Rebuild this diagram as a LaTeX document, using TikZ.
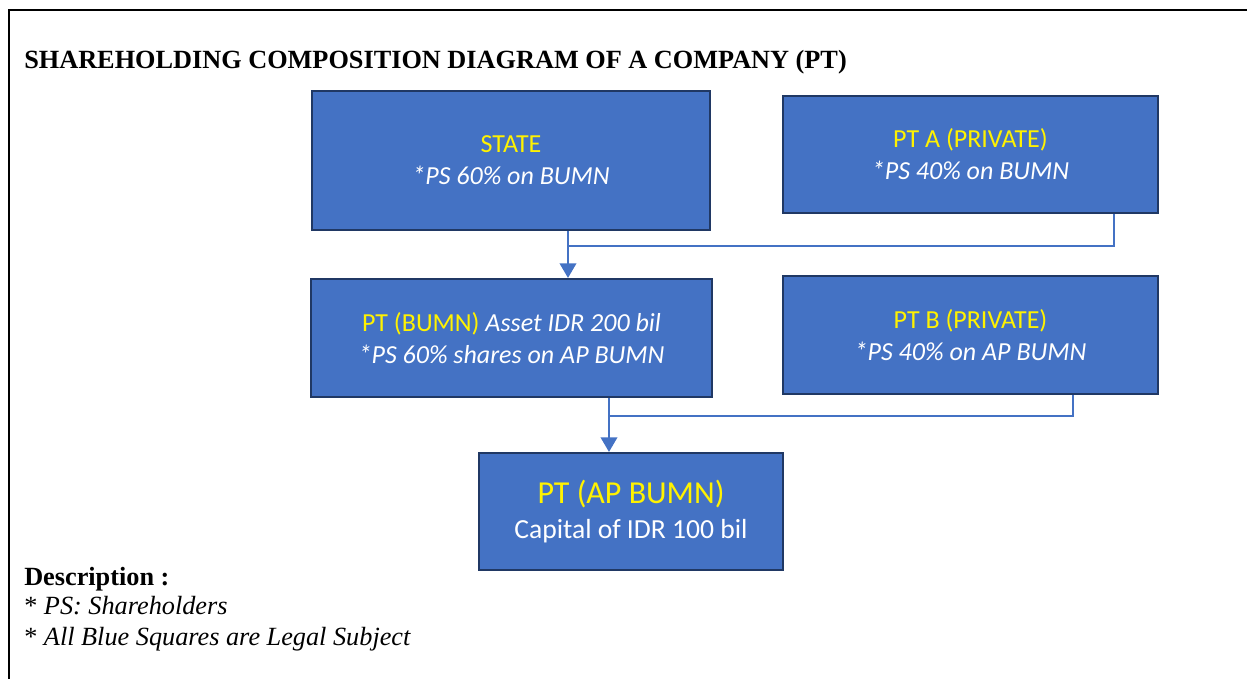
\documentclass[tikz,border=0pt]{standalone}
\usepackage{fontspec}
\setmainfont{Liberation Serif}
\newfontfamily\calibri{Carlito}
\usetikzlibrary{arrows.meta,positioning}
\definecolor{boxblue}{HTML}{4472C4}
\definecolor{boxedge}{HTML}{203864}
\definecolor{lineblue}{HTML}{4472C4}

\begin{document}
\begin{tikzpicture}[x=0.75pt, y=-0.75pt,
    > = {Triangle[width=12.5pt, length=11pt]},
    box/.style={draw=boxedge, line width=1.6pt, fill=boxblue, inner sep=0pt,
        align=center, text=white, font=\calibri\fontsize{19.5}{24}\selectfont},
    size/.style 2 args={minimum width=#1*0.75pt, minimum height=#2*0.75pt},
    conn/.style={draw=lineblue, line width=1.1pt},
    plain/.style={anchor=base west, inner sep=0pt, font=\fontsize{19.7}{23}\selectfont}]
    \useasboundingbox (0,0) rectangle (1247,679);
    % frame, cut off at the right and at the bottom
    \draw[line width=2pt] (1247,10) -- (9,10) -- (9,679);

    \node[plain, font=\bfseries\fontsize{19.7}{23}\selectfont] (title) at (24,68)
        {SHAREHOLDING COMPOSITION DIAGRAM OF A COMPANY (PT)};

    \node[box, size={398}{139}] (state) at (511,160.5)
        {{\color{yellow}STATE}\\\textit{*PS 60\% on BUMN}};
    \node[box, size={375}{117}] (pta) at (970.5,154.5)
        {{\color{yellow}PT A (PRIVATE)}\\\textit{*PS 40\% on BUMN}};
    \node[box, size={401}{118}] (bumn) at (511.5,338)
        {{\color{yellow}PT (BUMN)} \textit{Asset IDR 200 bil}\\\textit{*PS 60\% shares on AP BUMN}};
    \node[box, size={375}{118}] (ptb) at (970.5,335)
        {{\color{yellow}PT B (PRIVATE)}\\\textit{*PS 40\% on AP BUMN}};
    \node[box, size={304}{117}, font=\calibri\fontsize{20.7}{26}\selectfont] (ap) at (631,511.5)
        {{\color{yellow}\fontsize{24}{26}\selectfont PT (AP BUMN)}\\Capital of IDR 100 bil};

    % shares into the BUMN
    \coordinate (j1) at (568,246);
    \coordinate (k1) at (1114,246);
    \draw[conn, line width=1.4pt, ->] (state.south -| j1) -- (bumn.north -| j1);
    \draw[conn] (pta.south -| k1) -- (k1) -- (j1);
    % shares into the AP BUMN
    \coordinate (j2) at (609,416);
    \coordinate (k2) at (1073,416);
    \draw[conn, line width=1.4pt, ->] (bumn.south -| j2) -- (ap.north -| j2);
    \draw[conn] (ptb.south -| k2) -- (k2) -- (j2);

    \node[plain, font=\bfseries\fontsize{19.7}{23}\selectfont] (desc) at (24,585) {Description :};
    \node[plain] (ps) at (24,614) {* \textit{PS: Shareholders}};
    \node[plain] (legal) at (24,645) {* \textit{All Blue Squares are Legal Subject}};
\end{tikzpicture}
\end{document}
